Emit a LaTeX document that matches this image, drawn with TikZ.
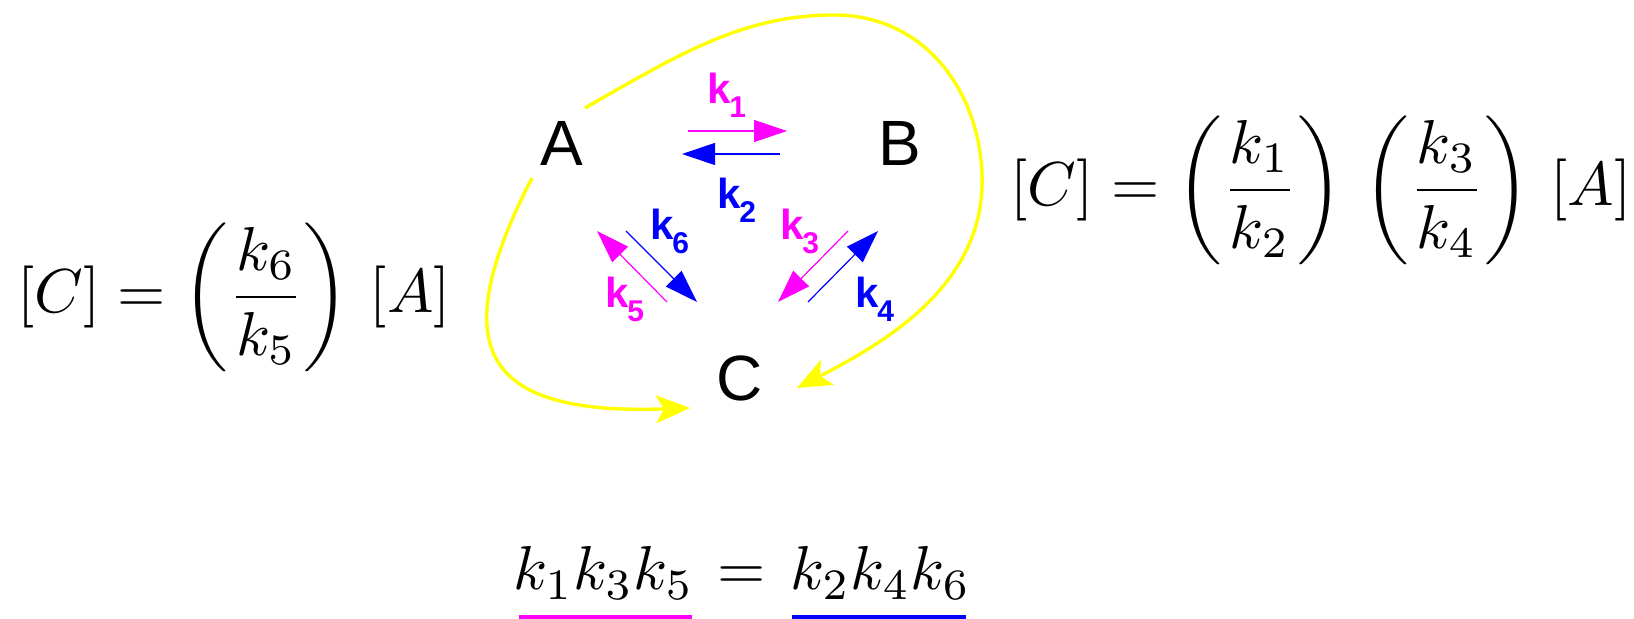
\documentclass[tikz,border=0pt]{standalone}
\usepackage{amsmath}
\usepackage{fontspec}
\setsansfont{Liberation Sans}
\usetikzlibrary{arrows.meta,positioning}
\definecolor{kmag}{RGB}{255,0,255}
\definecolor{kblue}{RGB}{0,0,255}
\definecolor{cycyellow}{RGB}{255,255,0}
\newcommand{\klab}[1]{k\kern-1pt\raisebox{-7pt}{\fontsize{15}{15}\selectfont #1}}
\newcommand{\bigeq}[1]{\scalebox{3.1}{$\displaystyle #1$}}

\begin{document}
\begin{tikzpicture}[x=0.5pt,y=-0.5pt,
    species/.style={font=\sffamily\fontsize{32}{32}\selectfont,inner sep=0pt},
    rate/.style={font=\sffamily\bfseries\fontsize{21}{21}\selectfont,inner sep=0pt},
    eq/.style={inner sep=0pt},
    fwd/.style={kmag,line width=0.6pt,-{Triangle[length=16.5pt,width=11pt]}},
    bwd/.style={kblue,line width=0.6pt,-{Triangle[length=16.5pt,width=11pt]}},
    cycpath/.style={cycyellow,line width=1.7pt,-{Stealth[length=17pt,width=14pt,inset=4pt]}}]
  \useasboundingbox (0,0) rectangle (1634,619);
  \node[species] (A) at (562,143) {A};
  \node[species] (B) at (900,143) {B};
  \node[species] (C) at (740,378) {C};
  \draw[fwd] ([shift={(126,-12)}]A.center) -- ([shift={(-113,-12)}]B.center);
  \draw[bwd] ([shift={(-120,11)}]B.center) -- ([shift={(120,11)}]A.center);
  \draw[fwd] ([shift={(-52,88)}]B.center) -- ([shift={(38,-76)}]C.center);
  \draw[bwd] ([shift={(68,-76)}]C.center) -- ([shift={(-22,88)}]B.center);
  \draw[fwd] ([shift={(-73,-76)}]C.center) -- ([shift={(35,88)}]A.center);
  \draw[bwd] ([shift={(64,88)}]A.center) -- ([shift={(-43,-76)}]C.center);
  \foreach \i/\col/\x/\y in {1/kmag/727/95,2/kblue/737/200,3/kmag/800/231,
                             4/kblue/875/299,5/kmag/625/299,6/kblue/670/231}
    \node[rate,text=\col] (k\i) at (\x,\y) {\klab{\i}};
  \draw[cycpath] ([shift={(23,-35)}]A.center) .. controls (681,53) and (744,15) .. (834,15)
    .. controls (930,15) and (985,100) .. (982,188)
    .. controls (978,290) and (880,345) .. ([shift={(57,10)}]C.center);
  \draw[cycpath] ([shift={(-30,35)}]A.center) .. controls (440,356) and (490,415) .. ([shift={(-50,30)}]C.center);
  \node[eq] (eqleft) at (234,297) {\bigeq{[C]=\left(\frac{k_6}{k_5}\right)\,[A]}};
  \node[eq] (eqright) at (1321,190) {\bigeq{[C]=\left(\frac{k_1}{k_2}\right)\,\left(\frac{k_3}{k_4}\right)\,[A]}};
  \node[eq,anchor=base] (eqmid) at (742,590) {\bigeq{=}};
  \node[eq,anchor=base east] (lhs) at (694,590) {\bigeq{k_1k_3k_5}};
  \node[eq,anchor=base west] (rhs) at (790,590) {\bigeq{k_2k_4k_6}};
  \draw[kmag,line width=2pt] ([shift={(6,27)}]lhs.base west) -- ([shift={(-2,27)}]lhs.base east);
  \draw[kblue,line width=2pt] ([shift={(2,27)}]rhs.base west) -- ([shift={(-5,27)}]rhs.base east);
\end{tikzpicture}
\end{document}
